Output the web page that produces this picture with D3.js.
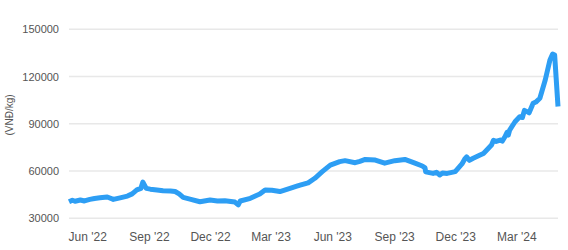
<!DOCTYPE html>
<html>
<head>
<meta charset="utf-8">
<script src="https://cdn.jsdelivr.net/npm/d3@7"></script>
<style>
  body { margin: 0; background: #fff; }
  svg { display: block; font-family: Arial, "Liberation Sans", sans-serif; }
</style>
</head>
<body>
<div class="graphContainer"></div>
<script>
// Price readings (VND/kg)
const dates = [
    '2022-05-05', '2022-05-10', '2022-05-14', '2022-05-22', '2022-05-28', '2022-06-05',
    '2022-06-12', '2022-06-20', '2022-07-01', '2022-07-10', '2022-07-20', '2022-07-31',
    '2022-08-07', '2022-08-14', '2022-08-20', '2022-08-23', '2022-08-28', '2022-09-03',
    '2022-09-13', '2022-09-22', '2022-10-03', '2022-10-10', '2022-10-16', '2022-10-22',
    '2022-11-01', '2022-11-16', '2022-12-01', '2022-12-12', '2022-12-23', '2023-01-07',
    '2023-01-12', '2023-01-15', '2023-01-30', '2023-02-08', '2023-02-13', '2023-02-21',
    '2023-03-03', '2023-03-15', '2023-03-30', '2023-04-08', '2023-04-14', '2023-04-26',
    '2023-05-06', '2023-05-17', '2023-05-29', '2023-06-12', '2023-06-20', '2023-07-05',
    '2023-07-12', '2023-07-20', '2023-08-04', '2023-08-18', '2023-09-02', '2023-09-17',
    '2023-10-02', '2023-10-13', '2023-10-17', '2023-10-18', '2023-10-29', '2023-11-03',
    '2023-11-08', '2023-11-12', '2023-11-19', '2023-12-01', '2023-12-11', '2023-12-15',
    '2023-12-18', '2023-12-22', '2023-12-27', '2024-01-07', '2024-01-12', '2024-01-17',
    '2024-01-24', '2024-01-27', '2024-01-31', '2024-02-06', '2024-02-09', '2024-02-13',
    '2024-02-16', '2024-02-18', '2024-02-20', '2024-02-28', '2024-03-06', '2024-03-10',
    '2024-03-13', '2024-03-17', '2024-03-20', '2024-03-26', '2024-03-30', '2024-04-05',
    '2024-04-13', '2024-04-20', '2024-04-24', '2024-04-27', '2024-05-02'
];
const prices = [
    40500, 41500, 40800, 41600, 41000, 42000,
    42600, 43000, 43500, 42000, 43000, 44100,
    45500, 48000, 49000, 53000, 49000, 48500,
    48000, 47500, 47300, 47000, 45500, 43300,
    42200, 40500, 41600, 41000, 41200, 40300,
    38500, 41000, 42700, 44500, 45400, 48000,
    47800, 47000, 49000, 50200, 51000, 52500,
    55400, 59600, 63800, 66000, 66600, 65300,
    66200, 67400, 67000, 65000, 66600, 67400,
    65000, 63200, 62000, 59500, 58500, 59200,
    57500, 58800, 58500, 59600, 64500, 67500,
    69000, 66800, 68000, 70200, 71200, 73400,
    76500, 79500, 78800, 79700, 79000, 81800,
    84500, 82800, 86000, 91300, 94500, 94000,
    98500, 97700, 97000, 103000, 103800, 106200,
    117800, 130500, 134300, 133700, 101000
];
const yTicks = [30000, 60000, 90000, 120000, 150000];
const xTicks = ['2022-06-01', '2022-09-01', '2022-12-01', '2023-03-01',
    '2023-06-01', '2023-09-01', '2023-12-01', '2024-03-01'];
const yTitle = '(VNĐ/kg)';

const renderChart = () => {
    const width = 568, height = 250;
    const parse = d3.timeParse('%Y-%m-%d');
    const data = dates.map((d, i) => ({ date: parse(d), value: prices[i] }));

    const svg = d3.select('.graphContainer')
        .append('svg')
        .attr('width', width)
        .attr('height', height);

    // Scales
    const x = d3.scaleTime()
        .domain(d3.extent(data, d => d.date))
        .range([69, 558]);
    const y = d3.scaleLinear()
        .domain([30000, 150000])
        .range([218.3, 29.3]);

    // Grid lines
    svg.append('g')
        .selectAll('line')
        .data(yTicks)
        .enter()
        .append('line')
        .attr('x1', 69)
        .attr('x2', 558)
        .attr('y1', d => y(d))
        .attr('y2', d => y(d))
        .attr('stroke', '#e8e8e8')
        .attr('stroke-width', 1.5);

    // Y axis
    const yAxis = svg.append('g')
        .attr('transform', 'translate(69,0)')
        .call(d3.axisLeft(y).tickValues(yTicks).tickFormat(d3.format('d')).tickSize(0).tickPadding(10));
    yAxis.select('.domain').remove();
    yAxis.selectAll('text')
        .attr('fill', '#555')
        .style('font-size', '11px');

    // X axis
    const xAxis = svg.append('g')
        .attr('transform', 'translate(0,228)')
        .call(d3.axisBottom(x)
            .tickValues(xTicks.map(parse))
            .tickFormat(d3.timeFormat("%b '%y"))
            .tickSize(0)
            .tickPadding(4));
    xAxis.select('.domain').remove();
    xAxis.selectAll('text')
        .attr('fill', '#555')
        .style('font-size', '12px');

    // Axis title
    svg.append('text')
        .attr('transform', 'translate(13,115) rotate(-90)')
        .attr('text-anchor', 'middle')
        .attr('fill', '#555')
        .style('font-size', '10px')
        .text(yTitle);

    // Line
    svg.append('path')
        .datum(data)
        .attr('fill', 'none')
        .attr('stroke', '#2d9ef4')
        .attr('stroke-width', 5)
        .attr('stroke-linejoin', 'round')
        .attr('d', d3.line()
            .x(d => x(d.date))
            .y(d => y(d.value)));
};

renderChart();
</script>
</body>
</html>
